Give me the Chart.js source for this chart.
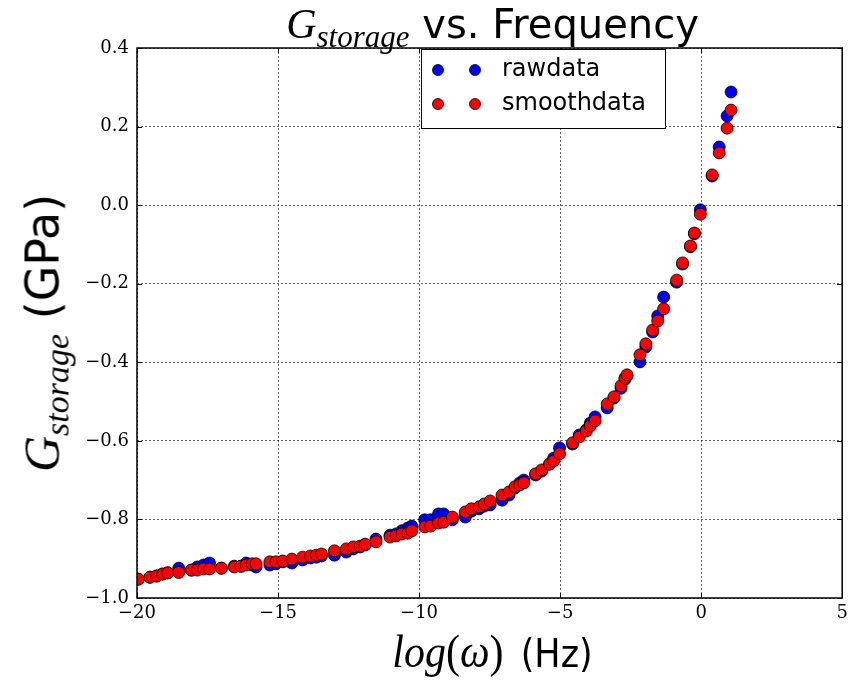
<!DOCTYPE html>
<html>
<head>
  <meta charset="utf-8">
  <title>G storage vs. Frequency</title>
  <script src="https://cdn.jsdelivr.net/npm/chart.js@4.4.1/dist/chart.umd.min.js"></script>
  <style>
    body { margin: 0; background: #fff; }
    #wrap { position: relative; width: 849px; height: 680px; }
    .lbl { position: absolute; white-space: nowrap; color: #000; font-family: 'DejaVu Sans', sans-serif; line-height: 50px; }
    .m { font-family: 'Liberation Serif', serif; font-style: italic; }
    .m sub { line-height: 0; vertical-align: -0.28em; }
    .up { font-style: normal; }
    #title { left: 137px; width: 711px; top: -1px; text-align: center; font-size: 40px; }
    #title .m { font-size: 42px; }
    #title .m sub { font-size: 31px; }
    #xlabel { left: 137px; width: 711px; top: 626px; text-align: center; font-size: 35px; word-spacing: 6px; transform: scaleY(1.12); }
    #xlabel .m { font-size: 42px; }
    #ylabel { left: 42px; top: 333px; font-size: 46px; transform: translate(-50%, -50%) rotate(-90deg); }
    #ylabel .m { font-size: 50px; }
    #ylabel .m sub { font-size: 34px; }
  </style>
</head>
<body>
  <div id="wrap">
    <canvas id="chart" width="849" height="680"></canvas>
    <div class="lbl" id="title"><span class="m">G<sub>storage</sub></span> vs. Frequency</div>
    <div class="lbl" id="ylabel"><span class="m">G<sub>storage</sub></span> (GPa)</div>
    <div class="lbl" id="xlabel"><span class="m">log<span class="up">(</span>&omega;<span class="up">)</span></span> (Hz)</div>
  </div>

  <script>
    // log(omega) values, shared by both series
    const logOmega = [
      -19.96, -19.54, -19.30, -19.09, -18.91, -18.52, -18.07, -17.86, -17.64, -17.43,
      -17.01, -16.55, -16.31, -16.13, -15.92, -15.78, -15.29, -15.08, -14.83, -14.51,
      -14.13, -13.85, -13.64, -13.46, -13.00, -12.58, -12.33, -12.09, -11.91, -11.53,
      -11.03, -10.82, -10.61, -10.40, -10.26, -9.80, -9.59, -9.31, -9.13, -8.82,
      -8.36, -8.15, -7.87, -7.69, -7.48, -7.06, -6.81, -6.60, -6.43, -6.29,
      -5.87, -5.65, -5.37, -5.23, -5.02, -4.56, -4.32, -4.07, -3.93, -3.76,
      -3.33, -3.09, -2.84, -2.70, -2.63, -2.17, -1.96, -1.72, -1.54, -1.33,
      -0.87, -0.66, -0.38, -0.24, -0.03, 0.39, 0.64, 0.92, 1.06
    ];

    // G storage (GPa), raw
    const gRaw = [
      -0.952, -0.947, -0.944, -0.939, -0.936, -0.924, -0.929, -0.921, -0.916, -0.911,
      -0.924, -0.919, -0.919, -0.911, -0.916, -0.921, -0.916, -0.913, -0.908, -0.911,
      -0.903, -0.898, -0.896, -0.893, -0.891, -0.883, -0.875, -0.870, -0.865, -0.850,
      -0.840, -0.837, -0.829, -0.822, -0.817, -0.801, -0.801, -0.786, -0.786, -0.801,
      -0.794, -0.779, -0.773, -0.766, -0.763, -0.751, -0.738, -0.720, -0.707, -0.700,
      -0.687, -0.677, -0.659, -0.644, -0.618, -0.608, -0.585, -0.572, -0.555, -0.539,
      -0.516, -0.491, -0.466, -0.443, -0.435, -0.399, -0.361, -0.323, -0.282, -0.234,
      -0.196, -0.150, -0.106, -0.073, -0.012, 0.074, 0.148, 0.227, 0.288
    ];

    // G storage (GPa), smoothed
    const gSmooth = [
      -0.952, -0.947, -0.944, -0.939, -0.936, -0.935, -0.929, -0.929, -0.926, -0.926,
      -0.924, -0.921, -0.919, -0.916, -0.913, -0.913, -0.908, -0.908, -0.906, -0.901,
      -0.896, -0.893, -0.891, -0.888, -0.880, -0.875, -0.870, -0.868, -0.863, -0.857,
      -0.845, -0.842, -0.837, -0.835, -0.829, -0.819, -0.817, -0.809, -0.807, -0.794,
      -0.781, -0.773, -0.768, -0.761, -0.753, -0.738, -0.730, -0.717, -0.712, -0.707,
      -0.684, -0.674, -0.659, -0.651, -0.633, -0.605, -0.590, -0.575, -0.562, -0.549,
      -0.506, -0.488, -0.460, -0.440, -0.432, -0.381, -0.353, -0.318, -0.295, -0.264,
      -0.191, -0.147, -0.104, -0.071, -0.023, 0.077, 0.133, 0.196, 0.242
    ];

    const seriesLabels = ['rawdata', 'smoothdata'];
    const seriesColors = ['#0000ff', '#ff0000'];

    const xTicks = [-20, -15, -10, -5, 0, 5];
    const yTicks = [-1.0, -0.8, -0.6, -0.4, -0.2, 0.0, 0.2, 0.4];

    const toPoints = (ys) => logOmega.map((x, i) => ({ x: x, y: ys[i] }));
    const minus = (s) => s.replace('-', '\u2212');

    // frame around the plot plus inward tick marks (matplotlib classic look)
    const framePlugin = {
      id: 'frame',
      afterDatasetsDraw(chart) {
        const { ctx, chartArea: a, scales } = chart;
        ctx.save();
        ctx.strokeStyle = '#000';
        ctx.lineWidth = 1;
        ctx.beginPath();
        scales.x.ticks.forEach(t => {
          const px = Math.round(scales.x.getPixelForValue(t.value)) + 0.5;
          ctx.moveTo(px, a.bottom); ctx.lineTo(px, a.bottom - 5);
          ctx.moveTo(px, a.top); ctx.lineTo(px, a.top + 5);
        });
        scales.y.ticks.forEach(t => {
          const py = Math.round(scales.y.getPixelForValue(t.value)) + 0.5;
          ctx.moveTo(a.left, py); ctx.lineTo(a.left + 5, py);
          ctx.moveTo(a.right, py); ctx.lineTo(a.right - 5, py);
        });
        ctx.stroke();
        ctx.lineWidth = 1.5;
        ctx.strokeRect(a.left, a.top, a.width, a.height);
        ctx.restore();
      }
    };

    // legend with two markers per entry, like matplotlib numpoints=2
    const legendPlugin = {
      id: 'mplLegend',
      afterDraw(chart) {
        const { ctx, chartArea: a } = chart;
        const bx = a.left + 284, by = a.top + 1, bw = 244, bh = 79;
        ctx.save();
        ctx.fillStyle = '#fff';
        ctx.fillRect(bx, by, bw, bh);
        ctx.strokeStyle = '#000';
        ctx.lineWidth = 1;
        ctx.strokeRect(bx + 0.5, by + 0.5, bw, bh);
        ctx.font = '24px "DejaVu Sans"';
        ctx.textBaseline = 'middle';
        chart.data.datasets.forEach((ds, i) => {
          const cy = by + 21 + i * 34;
          [bx + 17, bx + 54].forEach(cx => {
            ctx.beginPath();
            ctx.arc(cx, cy, 5.5, 0, Math.PI * 2);
            ctx.fillStyle = ds.backgroundColor;
            ctx.fill();
            ctx.lineWidth = 0.8;
            ctx.strokeStyle = '#000';
            ctx.stroke();
          });
          ctx.fillStyle = '#000';
          ctx.fillText(ds.label, bx + 81, cy);
        });
        ctx.restore();
      }
    };

    const tickFont = { family: 'DejaVu Serif', size: 18 };

    new Chart(document.getElementById('chart'), {
      type: 'scatter',
      data: {
        datasets: [
          {
            label: seriesLabels[0],
            data: toPoints(gRaw),
            backgroundColor: seriesColors[0],
            borderColor: '#000',
            borderWidth: 0.8,
            pointRadius: 6,
            order: 2
          },
          {
            label: seriesLabels[1],
            data: toPoints(gSmooth),
            backgroundColor: seriesColors[1],
            borderColor: '#000',
            borderWidth: 0.8,
            pointRadius: 6,
            order: 1
          }
        ]
      },
      options: {
        responsive: false,
        animation: false,
        devicePixelRatio: 1,
        layout: { padding: { top: 48, right: 1, left: 0, bottom: 0 } },
        plugins: {
          legend: { display: false },
          tooltip: { enabled: false }
        },
        scales: {
          x: {
            type: 'linear',
            min: xTicks[0],
            max: xTicks[xTicks.length - 1],
            afterBuildTicks: (s) => { s.ticks = xTicks.map(v => ({ value: v })); },
            afterFit: (s) => { s.height = 82; s.paddingLeft = 0; s.paddingRight = 0; },
            ticks: {
              autoSkip: false,
              maxRotation: 0,
              padding: 5,
              color: '#000',
              font: tickFont,
              callback: (v) => minus(String(v))
            },
            grid: { color: 'rgba(0,0,0,0.6)', lineWidth: 1, drawTicks: false },
            border: { display: false, dash: [2, 2] }
          },
          y: {
            type: 'linear',
            min: yTicks[0],
            max: yTicks[yTicks.length - 1],
            afterBuildTicks: (s) => { s.ticks = yTicks.map(v => ({ value: v })); },
            afterFit: (s) => { s.width = 137; s.paddingTop = 0; s.paddingBottom = 0; },
            ticks: {
              autoSkip: false,
              padding: 8,
              color: '#000',
              font: tickFont,
              callback: (v) => minus(Number(v).toFixed(1))
            },
            grid: { color: 'rgba(0,0,0,0.6)', lineWidth: 1, drawTicks: false },
            border: { display: false, dash: [2, 2] }
          }
        }
      },
      plugins: [framePlugin, legendPlugin]
    });
  </script>
</body>
</html>
